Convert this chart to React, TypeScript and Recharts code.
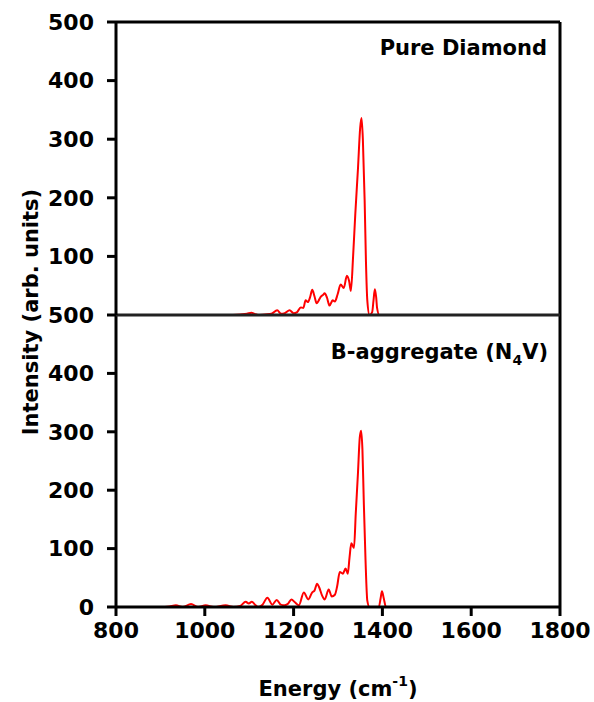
import { LineChart, Line, XAxis, YAxis, ReferenceLine } from 'recharts';

const pureEnergy = [
  800, 900, 1000, 1050, 1080, 1095, 1105, 1112, 1120, 1135, 1150, 1163, 1172, 1180, 1191, 1200, 1208,
  1216, 1222, 1227, 1232, 1237, 1242, 1247, 1252, 1256, 1261, 1266, 1270, 1275, 1281, 1288, 1293, 1299,
  1306, 1313, 1320, 1325, 1329, 1334, 1339, 1345, 1350, 1353, 1356, 1360, 1363, 1366, 1371, 1377, 1380,
  1383, 1386, 1388, 1393, 1400,
];
const pureIntensity = [
  0, 0, 0, 0, 1, 2, 4, 2, 0, 1, 2, 8, 2, 3, 8, 3, 5,
  13, 12, 25, 22, 30, 43, 32, 20, 24, 31, 34, 37, 30, 16, 25, 23, 35,
  52, 46, 67, 58, 41, 100, 173, 250, 320, 336, 300, 196, 90, 25, 0, 5, 25,
  44, 30, 12, 0, 0,
];

const bEnergy = [
  800, 900, 920, 935, 950, 969, 985, 1002, 1020, 1047, 1065, 1080, 1092, 1099, 1106, 1113, 1120, 1130,
  1141, 1152, 1162, 1171, 1180, 1188, 1195, 1203, 1212, 1223, 1233, 1242, 1247, 1253, 1258, 1264, 1270,
  1279, 1286, 1293, 1298, 1304, 1311, 1317, 1322, 1326, 1330, 1336, 1340, 1345, 1349, 1352, 1355, 1358,
  1362, 1366, 1371, 1392, 1396, 1399, 1403, 1408, 1420,
];
const bIntensity = [
  0, 0, 1, 3, 0, 5, 0, 3, 0, 3, 0, 2, 9, 6, 9, 4, 0, 4,
  16, 4, 12, 4, 3, 6, 13, 8, 3, 25, 13, 25, 28, 40, 33, 20, 13,
  30, 18, 21, 35, 60, 57, 66, 57, 85, 109, 101, 160, 230, 290, 302, 270, 183,
  80, 11, 0, 0, 15, 27, 15, 0, 0,
];

const xTicks = [800, 1000, 1200, 1400, 1600, 1800];
const topYTicks = [100, 200, 300, 400, 500];
const bottomYTicks = [0, 100, 200, 300, 400, 500];

const pureData = pureEnergy.map((e, i) => ({ energy: e, value: pureIntensity[i] }));
const bData = bEnergy.map((e, i) => ({ energy: e, value: bIntensity[i] }));

const font = '"DejaVu Sans", Verdana, sans-serif';
const tickStyle = { fontFamily: font, fontWeight: 'bold', fontSize: 22, fill: '#000' };

export default function App() {
  return (
    <div style={{ position: 'absolute', left: 0, top: 0, width: 594, height: 702, background: '#fff' }}>
      <div style={{ position: 'absolute', left: 0, top: 300 }}>
        <LineChart width={594} height={402} data={bData} margin={{ top: 15, right: 34, left: 56, bottom: 35 }}>
          <XAxis
            dataKey="energy"
            type="number"
            domain={[800, 1800]}
            ticks={xTicks}
            height={60}
            tickSize={9}
            tickMargin={6}
            tick={tickStyle}
            tickLine={{ stroke: '#000', strokeWidth: 3 }}
            axisLine={{ stroke: '#000', strokeWidth: 3 }}
          />
          <YAxis
            type="number"
            domain={[0, 500]}
            ticks={bottomYTicks}
            width={60}
            tickSize={9}
            tickMargin={13}
            tick={tickStyle}
            tickLine={{ stroke: '#000', strokeWidth: 3 }}
            axisLine={{ stroke: '#000', strokeWidth: 3 }}
          />
          <Line
            dataKey="value"
            type="monotone"
            stroke="#ff0000"
            strokeWidth={2}
            dot={false}
            isAnimationActive={false}
          />
          <ReferenceLine x={1800} stroke="#000" strokeWidth={3} ifOverflow="visible" />
        </LineChart>
      </div>
      <div style={{ position: 'absolute', left: 0, top: 0 }}>
        <LineChart width={594} height={322} data={pureData} margin={{ top: 22, right: 34, left: 56, bottom: 7 }}>
          <XAxis dataKey="energy" type="number" domain={[800, 1800]} ticks={xTicks} hide />
          <YAxis
            type="number"
            domain={[0, 500]}
            ticks={topYTicks}
            width={60}
            tickSize={9}
            tickMargin={13}
            tick={tickStyle}
            tickLine={{ stroke: '#000', strokeWidth: 3 }}
            axisLine={{ stroke: '#000', strokeWidth: 3 }}
          />
          <Line
            dataKey="value"
            type="monotone"
            stroke="#ff0000"
            strokeWidth={2}
            dot={false}
            isAnimationActive={false}
          />
          <ReferenceLine y={500} stroke="#000" strokeWidth={3} ifOverflow="visible" />
          <ReferenceLine x={1800} stroke="#000" strokeWidth={3} ifOverflow="visible" />
          <ReferenceLine y={0} stroke="#222" strokeWidth={3} ifOverflow="visible" />
        </LineChart>
      </div>
      <svg
        width={594}
        height={702}
        style={{ position: 'absolute', left: 0, top: 0, pointerEvents: 'none' }}
        fontFamily={font}
        fontWeight="bold"
      >
        <text x={547} y={55} textAnchor="end" fontSize={21}>
          Pure Diamond
        </text>
        <text x={548} y={359} textAnchor="end" fontSize={21}>
          B-aggregate (N<tspan fontSize={14} dy={6}>4</tspan>
          <tspan dy={-6}>V)</tspan>
        </text>
        <text x={338} y={696} textAnchor="middle" fontSize={21}>
          Energy (cm<tspan fontSize={14} dy={-10}>-1</tspan>
          <tspan dy={10}>)</tspan>
        </text>
        <text x={38} y={312} textAnchor="middle" fontSize={21} transform="rotate(-90 38 312)">
          Intensity (arb. units)
        </text>
      </svg>
    </div>
  );
}
